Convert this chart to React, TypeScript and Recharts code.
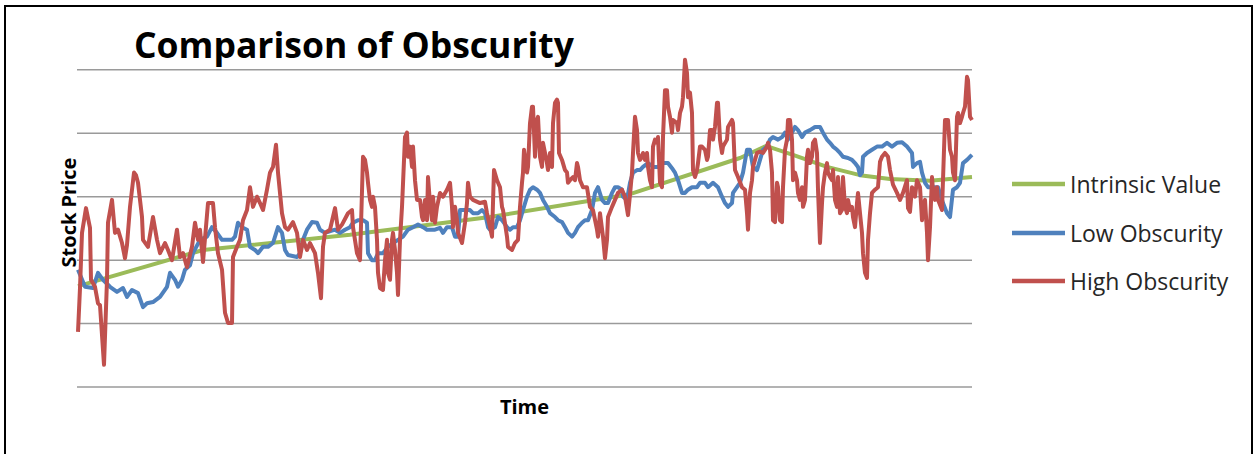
import React from "react";
import { LineChart, Line, XAxis, YAxis, ReferenceLine, Legend } from "recharts";

// [time, price] pairs for each series
const INTRINSIC_VALUE: [number, number][] = [
  [1, 15.9], [126, 21.6], [273, 24.0], [413, 26.8], [553, 30.4], [663, 36.1], [689, 38.0],
  [716, 36.6], [750, 34.7], [783, 33.4], [813, 32.8], [853, 32.5], [895, 33.1],
];

const LOW_OBSCURITY: [number, number][] = [
  [1, 18.5], [8, 15.8], [16, 15.6], [21, 18.0], [26, 16.9], [33, 15.8], [40, 15.0], [46, 15.6],
  [50, 14.2], [55, 15.3], [61, 14.8], [66, 12.6], [70, 13.2], [76, 13.4], [83, 14.2], [90, 15.8],
  [93, 18.0], [98, 16.9], [101, 15.8], [105, 16.9], [108, 18.5], [113, 19.2], [116, 21.1], [123, 23.2],
  [130, 23.7], [135, 25.2], [140, 24.3], [145, 23.2], [155, 23.2], [158, 23.7], [161, 25.9], [165, 25.2],
  [170, 24.8], [173, 22.1], [178, 21.6], [181, 21.1], [186, 22.1], [191, 22.1], [196, 22.7], [201, 25.2],
  [205, 24.3], [208, 21.6], [211, 20.8], [220, 20.5], [223, 21.1], [226, 23.2], [230, 24.8], [235, 26.0],
  [240, 25.9], [243, 24.8], [248, 24.3], [258, 24.8], [263, 24.3], [268, 24.8], [273, 25.2], [276, 25.9],
  [281, 26.3], [286, 26.3], [290, 25.9], [291, 21.1], [295, 20.0], [298, 20.0], [301, 21.1], [306, 21.1],
  [311, 22.1], [316, 22.7], [321, 23.2], [326, 23.7], [331, 24.8], [336, 25.2], [341, 25.6], [346, 25.2],
  [350, 24.8], [358, 24.8], [363, 25.1], [366, 24.3], [370, 25.2], [375, 25.2], [378, 23.7], [381, 23.7],
  [383, 27.9], [393, 27.9], [396, 27.4], [401, 27.4], [405, 27.9], [408, 27.4], [411, 25.2], [413, 24.8],
  [418, 25.2], [421, 26.8], [425, 26.3], [430, 25.2], [433, 24.8], [436, 25.2], [440, 25.2], [443, 26.3],
  [446, 27.9], [450, 30.0], [453, 31.1], [456, 31.5], [460, 31.1], [463, 30.6], [466, 29.5], [470, 28.4],
  [473, 27.4], [478, 26.8], [481, 26.3], [485, 26.0], [488, 25.2], [491, 24.3], [495, 23.7], [498, 24.3],
  [501, 25.2], [505, 25.9], [508, 26.3], [511, 26.3], [515, 27.9], [518, 30.6], [521, 31.5], [525, 29.5],
  [528, 29.0], [531, 29.0], [535, 30.6], [538, 31.5], [541, 31.5], [545, 31.1], [546, 30.0], [550, 29.5],
  [553, 32.2], [556, 33.8], [560, 34.2], [563, 34.2], [566, 34.7], [571, 35.3], [576, 34.7], [581, 34.7],
  [586, 35.3], [591, 35.3], [595, 34.5], [598, 33.8], [601, 32.6], [605, 30.6], [608, 30.6], [611, 31.1],
  [615, 31.5], [620, 31.5], [623, 32.2], [628, 32.2], [631, 31.5], [636, 32.2], [641, 31.5], [645, 30.0],
  [648, 29.0], [651, 28.4], [655, 29.0], [656, 30.6], [660, 31.5], [663, 32.2], [666, 33.8], [670, 37.4],
  [673, 37.4], [676, 34.7], [680, 34.2], [683, 35.8], [686, 37.4], [690, 37.9], [693, 39.0], [696, 39.4],
  [701, 39.0], [705, 39.4], [708, 40.1], [711, 39.0], [715, 40.1], [718, 41.0], [721, 40.5], [725, 39.4],
  [728, 40.1], [733, 40.5], [738, 41.0], [743, 41.0], [746, 40.1], [750, 39.0], [753, 38.5], [756, 37.9],
  [760, 37.4], [763, 36.9], [766, 36.3], [771, 36.1], [775, 35.8], [778, 35.3], [781, 34.7], [783, 33.4],
  [785, 33.8], [786, 36.3], [790, 36.9], [795, 37.4], [800, 37.9], [805, 37.9], [810, 38.5], [815, 37.9],
  [820, 38.5], [825, 38.6], [830, 37.9], [835, 36.9], [836, 34.7], [840, 35.3], [843, 35.5], [845, 33.8],
  [848, 32.2], [851, 31.5], [861, 31.5], [866, 29.0], [870, 27.4], [873, 26.8], [876, 31.1], [880, 31.5],
  [883, 32.2], [886, 35.3], [890, 35.8], [893, 36.3], [895, 36.6],
];

const HIGH_OBSCURITY: [number, number][] = [
  [1, 8.7], [3, 15.6], [5, 24.3], [9, 28.2], [13, 25.1], [14, 16.9], [18, 15.8], [21, 13.2],
  [23, 12.9], [27, 3.5], [30, 16.9], [31, 25.9], [35, 29.5], [38, 24.3], [41, 24.8], [45, 22.7],
  [48, 20.3], [50, 22.4], [53, 28.4], [57, 33.8], [59, 33.4], [61, 32.2], [65, 26.8], [66, 23.2],
  [71, 22.1], [76, 26.8], [80, 23.2], [83, 21.1], [88, 22.7], [91, 21.6], [95, 20.0], [100, 24.8],
  [103, 20.5], [106, 21.1], [110, 18.9], [115, 22.1], [118, 25.9], [121, 23.2], [123, 24.8], [126, 19.7],
  [131, 29.0], [136, 29.0], [138, 25.2], [141, 21.1], [145, 18.5], [148, 11.7], [151, 10.1], [155, 10.1],
  [156, 20.5], [160, 22.1], [163, 23.2], [166, 26.3], [170, 27.9], [173, 31.5], [176, 28.4], [180, 30.0],
  [183, 29.0], [186, 27.9], [190, 31.1], [193, 33.8], [196, 34.7], [199, 38.2], [201, 33.8], [205, 27.4],
  [208, 25.2], [211, 24.8], [216, 26.0], [220, 24.3], [223, 20.5], [226, 23.2], [230, 21.6], [233, 22.7],
  [238, 21.1], [241, 18.0], [244, 14.0], [246, 22.1], [248, 24.3], [253, 24.8], [258, 28.2], [261, 24.8],
  [265, 25.6], [271, 27.4], [275, 27.9], [276, 25.2], [280, 21.1], [283, 20.0], [286, 36.3], [288, 35.8],
  [290, 33.8], [291, 32.2], [293, 29.5], [295, 28.4], [296, 30.0], [298, 28.4], [300, 23.2], [301, 18.0],
  [303, 15.6], [306, 15.3], [308, 20.0], [310, 23.2], [311, 18.0], [313, 16.9], [315, 23.2], [316, 24.3],
  [318, 21.6], [320, 18.0], [321, 14.5], [323, 23.2], [325, 28.4], [328, 39.4], [330, 40.1], [331, 36.3],
  [333, 37.9], [335, 34.7], [336, 37.9], [338, 32.6], [340, 29.5], [343, 29.5], [345, 26.8], [346, 26.3],
  [348, 29.5], [350, 26.3], [351, 33.1], [353, 29.0], [355, 26.3], [356, 30.0], [358, 25.9], [360, 28.4],
  [363, 30.6], [366, 30.0], [370, 31.1], [373, 32.2], [375, 28.4], [376, 25.2], [378, 28.4], [380, 26.3],
  [381, 24.3], [385, 22.7], [388, 25.9], [390, 29.0], [391, 32.2], [393, 30.0], [396, 29.5], [403, 29.0],
  [408, 29.2], [410, 27.4], [413, 25.2], [415, 23.7], [416, 29.0], [417, 34.2], [420, 32.6], [423, 31.5],
  [425, 28.4], [426, 27.9], [430, 23.7], [431, 22.1], [435, 21.6], [438, 22.7], [441, 23.2], [443, 28.4],
  [445, 32.2], [446, 33.8], [447, 37.4], [450, 33.8], [451, 34.7], [453, 41.6], [455, 44.2], [456, 44.2],
  [458, 36.3], [460, 42.1], [461, 42.6], [463, 36.3], [465, 34.7], [466, 38.5], [468, 36.9], [470, 35.3],
  [471, 34.2], [473, 36.9], [475, 34.7], [476, 41.6], [478, 44.8], [480, 45.3], [481, 44.8], [482, 36.9],
  [485, 35.8], [488, 34.2], [490, 33.8], [491, 32.2], [493, 32.6], [496, 33.1], [498, 32.6], [500, 35.3],
  [501, 34.7], [503, 32.6], [506, 31.5], [510, 31.5], [513, 28.4], [516, 27.9], [520, 24.8], [521, 23.7],
  [523, 27.4], [526, 23.7], [528, 20.3], [530, 23.2], [531, 26.8], [535, 28.4], [538, 29.5], [541, 30.6],
  [545, 31.1], [548, 30.0], [551, 27.1], [553, 30.3], [555, 33.8], [556, 36.9], [558, 42.6], [560, 40.5],
  [561, 36.9], [563, 35.8], [565, 36.3], [566, 36.9], [568, 35.8], [570, 36.9], [571, 34.7], [573, 32.6],
  [575, 31.5], [576, 37.9], [578, 39.0], [580, 38.5], [581, 39.4], [583, 32.2], [585, 31.5], [586, 39.4],
  [588, 46.8], [590, 46.8], [591, 44.2], [593, 42.6], [595, 40.1], [596, 42.1], [600, 41.6], [601, 40.5],
  [603, 43.2], [605, 44.2], [606, 45.7], [608, 51.6], [610, 49.5], [611, 45.7], [613, 46.4], [615, 43.2],
  [616, 34.2], [618, 33.1], [620, 34.2], [621, 35.3], [623, 37.9], [625, 37.9], [628, 37.4], [630, 35.8],
  [631, 36.3], [633, 40.5], [635, 40.5], [636, 39.0], [638, 41.0], [640, 44.8], [641, 44.8], [643, 39.0],
  [645, 36.9], [646, 37.9], [650, 39.0], [651, 41.0], [655, 42.1], [656, 41.6], [658, 34.2], [661, 33.1],
  [665, 31.5], [668, 31.1], [670, 27.4], [671, 24.8], [673, 30.6], [675, 32.6], [676, 34.7], [680, 36.9],
  [683, 37.1], [686, 36.9], [690, 37.9], [691, 38.5], [693, 37.4], [695, 33.8], [696, 26.3], [698, 26.0],
  [700, 32.2], [701, 31.5], [703, 26.3], [705, 26.0], [706, 31.5], [708, 37.4], [710, 39.0], [711, 42.1],
  [713, 42.1], [715, 39.0], [716, 32.6], [718, 33.8], [720, 32.6], [721, 30.6], [723, 29.5], [725, 31.5],
  [726, 28.4], [728, 29.5], [730, 36.3], [731, 37.4], [733, 35.3], [735, 36.3], [736, 38.5], [738, 39.0],
  [740, 36.9], [741, 31.1], [743, 22.7], [745, 29.0], [746, 31.5], [748, 33.8], [750, 35.3], [751, 33.8],
  [753, 33.1], [755, 32.6], [756, 34.2], [758, 29.5], [760, 28.4], [761, 33.1], [763, 27.4], [765, 27.9],
  [766, 33.1], [768, 28.4], [770, 27.4], [771, 29.5], [773, 27.9], [775, 28.4], [776, 26.8], [778, 25.2],
  [780, 29.0], [781, 30.6], [783, 27.4], [785, 24.3], [786, 21.1], [788, 18.0], [790, 17.2], [791, 23.2],
  [793, 27.4], [795, 30.6], [798, 31.1], [801, 31.5], [803, 35.5], [805, 36.3], [808, 36.9], [811, 36.3],
  [813, 34.2], [816, 31.9], [820, 30.6], [823, 29.5], [826, 30.6], [830, 32.6], [831, 28.2], [833, 27.6],
  [835, 31.5], [838, 30.0], [840, 32.6], [843, 31.5], [845, 26.3], [846, 27.9], [848, 29.5], [850, 24.3],
  [851, 20.0], [853, 25.2], [855, 33.1], [856, 31.1], [858, 29.5], [860, 31.5], [861, 29.5], [865, 27.9],
  [868, 42.1], [871, 42.1], [873, 37.4], [875, 36.3], [876, 33.8], [878, 32.6], [880, 42.6], [881, 43.2],
  [883, 41.6], [885, 42.6], [886, 43.2], [888, 44.2], [890, 48.9], [891, 48.4], [893, 42.6], [895, 42.1],
];

const PRICE_TICKS = [0, 10, 20, 30, 40, 50];

const SERIES = [
  { name: "Intrinsic Value", color: "#9BBB59", points: INTRINSIC_VALUE },
  { name: "Low Obscurity", color: "#4F81BD", points: LOW_OBSCURITY },
  { name: "High Obscurity", color: "#C0504D", points: HIGH_OBSCURITY },
];

const FONT = "'Open Sans', Lato, sans-serif";

function LegendBox() {
  return (
    <div style={{ fontFamily: FONT, fontSize: 23, color: "#262626" }}>
      {SERIES.map((s) => (
        <div key={s.name} style={{ display: "flex", alignItems: "center", height: 48.5 }}>
          <svg width={56} height={8} style={{ marginRight: 4 }}>
            <line x1={2} y1={4} x2={55} y2={4} stroke={s.color} strokeWidth={4.5} />
          </svg>
          <span>{s.name}</span>
        </div>
      ))}
    </div>
  );
}

export default function App() {
  return (
    <div
      style={{
        position: "relative",
        width: 1257,
        height: 454,
        overflow: "hidden",
        background: "#fff",
        fontFamily: FONT,
      }}
    >
      <style>{`body { margin: 0; overflow: hidden; }`}</style>
      <div
        style={{
          position: "absolute",
          left: 4,
          top: 5,
          width: 1245,
          height: 470,
          border: "2px solid #000",
        }}
      />
      <div
        style={{
          position: "absolute",
          left: 134,
          top: 20,
          fontSize: 35.5,
          lineHeight: "normal",
          fontWeight: 700,
          color: "#000",
          whiteSpace: "nowrap",
        }}
      >
        Comparison of Obscurity
      </div>
      <LineChart width={1257} height={454} margin={{ top: 54, right: 285, bottom: 0, left: 0 }}>
        <XAxis
          type="number"
          dataKey="t"
          domain={[0, 895]}
          height={67}
          tick={false}
          tickLine={false}
          axisLine={false}
          label={{
            value: "Time",
            position: "insideTop",
            dy: 8,
            style: { fontFamily: FONT, fontSize: 20, fontWeight: 700, fill: "#000" },
          }}
        />
        <YAxis
          type="number"
          domain={[0, 52.5]}
          ticks={PRICE_TICKS}
          width={77}
          tick={false}
          tickLine={false}
          axisLine={false}
          label={{
            value: "Stock Price",
            angle: -90,
            position: "center",
            dx: 30,
            dy: -8,
            style: { fontFamily: FONT, fontSize: 20, fontWeight: 700, fill: "#000" },
          }}
        />
        {/* horizontal gridlines at each price tick */}
        {PRICE_TICKS.map((v) => (
          <ReferenceLine key={v} y={v} stroke="#9a9a9a" strokeWidth={1.5} />
        ))}
        {SERIES.map((s) => (
          <Line
            key={s.name}
            name={s.name}
            data={s.points.map(([t, v]) => ({ t, v }))}
            dataKey="v"
            type="linear"
            stroke={s.color}
            strokeWidth={4}
            strokeLinejoin="round"
            dot={false}
            activeDot={false}
            isAnimationActive={false}
          />
        ))}
        <Legend
          layout="vertical"
          align="center"
          verticalAlign="middle"
          content={<LegendBox />}
          wrapperStyle={{ left: 1010, top: 160, width: 245, height: 150 }}
        />
      </LineChart>
    </div>
  );
}
